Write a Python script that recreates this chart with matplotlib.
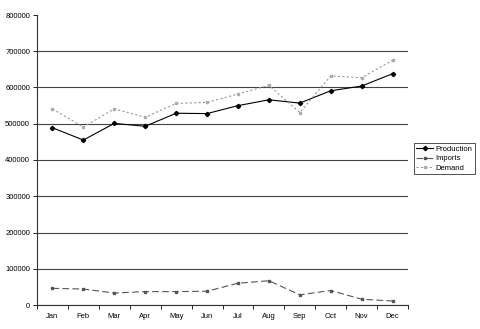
import numpy as np
import matplotlib
matplotlib.use("Agg")
import matplotlib.pyplot as plt

plt.rcParams['font.family'] = ['Liberation Sans', 'DejaVu Sans']

months = ['Jan', 'Feb', 'Mar', 'Apr', 'May', 'Jun', 'Jul', 'Aug', 'Sep', 'Oct', 'Nov', 'Dec']
production = [489000, 455000, 501000, 493000, 529000, 528000, 550000, 566000, 557000, 591000, 604000, 638000]
imports = [46000, 44000, 33000, 37000, 37000, 38000, 60000, 67000, 28000, 40000, 16000, 11000]
demand = [541000, 491000, 541000, 518000, 556000, 559000, 582000, 606000, 531000, 632000, 627000, 675000]

fig = plt.figure(figsize=(4.8, 3.29), dpi=100)
ax = fig.add_axes([37/480, (329-305)/329, (408-37)/480, 290/329])

x = np.arange(len(months))
ax.plot(x, production, color='black', lw=0.8, marker='D', markersize=2.2, label='Production')
ax.plot(x, imports, color='#555555', lw=0.8, ls=(0, (6, 3)), marker='s', markersize=2,
        markeredgecolor='#555555', label='Imports')
ax.plot(x, demand, color='#999999', lw=0.8, ls=(0, (2, 2)), marker='s', markersize=1.5,
        markerfacecolor='#cccccc', markeredgecolor='#aaaaaa', label='Demand')

ax.set_xlim(-0.5, 11.5)
ax.set_ylim(0, 800000)
ax.set_yticks(np.arange(0, 800001, 100000))
ax.set_yticklabels([str(v) for v in range(0, 800001, 100000)])
ax.yaxis.grid(True, color='#444444', lw=0.8)
ax.yaxis.get_gridlines()[-1].set_visible(False)
ax.set_axisbelow(True)

ax.set_xticks(x)
ax.set_xticklabels(months)
ax.set_xticks(np.arange(-0.5, 12, 1), minor=True)
ax.tick_params(axis='x', which='major', length=0, labelsize=5.5, pad=6)
ax.tick_params(axis='x', which='minor', length=3, width=0.6, direction='out')
ax.tick_params(axis='y', length=3, width=0.6, labelsize=5.5, pad=2)

for s in ['top', 'right']:
    ax.spines[s].set_visible(False)
for s in ['left', 'bottom']:
    ax.spines[s].set_color('#333333')
    ax.spines[s].set_linewidth(0.8)

leg = ax.legend(loc='upper left', bbox_to_anchor=(414/480, (329-143)/329),
                bbox_transform=fig.transFigure, fontsize=5.5, frameon=True,
                fancybox=False, handlelength=2.2, handletextpad=0.3,
                borderpad=0.3, labelspacing=0.3, borderaxespad=0)
leg.get_frame().set_edgecolor('black')
leg.get_frame().set_linewidth(0.6)

fig.savefig('out.png', dpi=100)
